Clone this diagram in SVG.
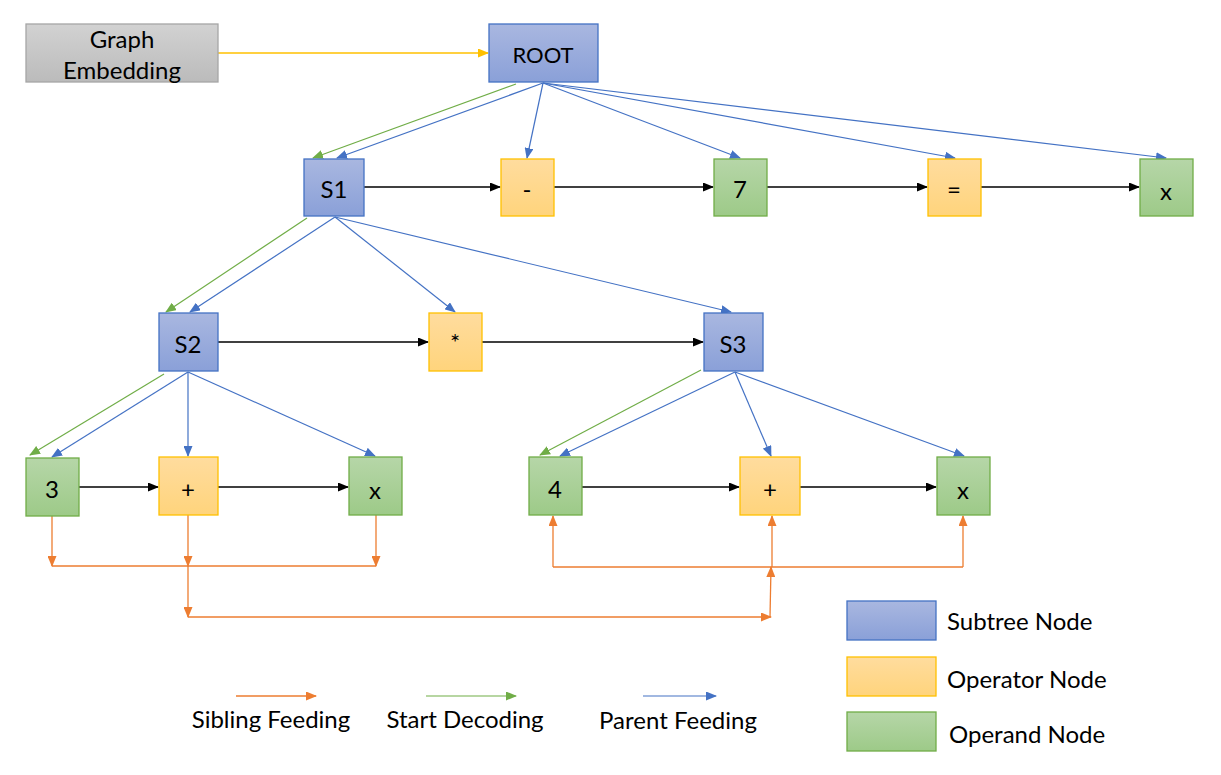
<svg xmlns="http://www.w3.org/2000/svg" width="1221" height="775" viewBox="0 0 1221 775">
<defs>
<linearGradient id="gB" x1="0" y1="0" x2="0" y2="1"><stop offset="0" stop-color="#A9B7E0"/><stop offset="1" stop-color="#8AA0D8"/></linearGradient>
<linearGradient id="gO" x1="0" y1="0" x2="0" y2="1"><stop offset="0" stop-color="#FFDC9E"/><stop offset="1" stop-color="#FFD47C"/></linearGradient>
<linearGradient id="gG" x1="0" y1="0" x2="0" y2="1"><stop offset="0" stop-color="#B6D6A8"/><stop offset="1" stop-color="#9DCA88"/></linearGradient>
<linearGradient id="gGr" x1="0" y1="0" x2="0" y2="1"><stop offset="0" stop-color="#D2D2D2"/><stop offset="1" stop-color="#BBBBBB"/></linearGradient>
<marker id="aK" markerWidth="11" markerHeight="9" refX="10" refY="4.5" orient="auto" markerUnits="userSpaceOnUse"><path d="M0,0 L11,4.5 L0,9 z" fill="#000"/></marker>
<marker id="aB" markerWidth="11" markerHeight="9" refX="10" refY="4.5" orient="auto" markerUnits="userSpaceOnUse"><path d="M0,0 L11,4.5 L0,9 z" fill="#4472C4"/></marker>
<marker id="aG" markerWidth="11" markerHeight="9" refX="10" refY="4.5" orient="auto" markerUnits="userSpaceOnUse"><path d="M0,0 L11,4.5 L0,9 z" fill="#70AD47"/></marker>
<marker id="aO" markerWidth="11" markerHeight="9" refX="10" refY="4.5" orient="auto" markerUnits="userSpaceOnUse"><path d="M0,0 L11,4.5 L0,9 z" fill="#ED7D31"/></marker>
<marker id="aY" markerWidth="11" markerHeight="9" refX="10" refY="4.5" orient="auto" markerUnits="userSpaceOnUse"><path d="M0,0 L11,4.5 L0,9 z" fill="#FFC000"/></marker>
</defs>
<style>
.sub{fill:url(#gB);stroke:#4472C4;stroke-width:1.3}
.op{fill:url(#gO);stroke:#FFC000;stroke-width:1.3}
.opd{fill:url(#gG);stroke:#70AD47;stroke-width:1.3}
.gr{fill:url(#gGr);stroke:#A6A6A6;stroke-width:1.3}
text{font-family:Lato,"Open Sans","Liberation Sans",sans-serif;fill:#000;font-size:24px}
.c{text-anchor:middle;dominant-baseline:central}
.k{stroke:#000;stroke-width:1.3;fill:none;marker-end:url(#aK)}
.b{stroke:#4472C4;stroke-width:1.2;fill:none;marker-end:url(#aB)}
.g{stroke:#70AD47;stroke-width:1.2;fill:none;marker-end:url(#aG)}
.o{stroke:#ED7D31;stroke-width:1.3;fill:none}
.oa{stroke:#ED7D31;stroke-width:1.3;fill:none;marker-end:url(#aO)}
.y{stroke:#FFC000;stroke-width:1.3;fill:none;marker-end:url(#aY)}
</style>
<g id="connectors">
<line class="y" x1="218" y1="53" x2="488" y2="53"/>
<line class="g" x1="516" y1="84" x2="313" y2="158"/>
<line class="b" x1="543" y1="83" x2="337" y2="158"/>
<line class="b" x1="543" y1="83" x2="527" y2="158"/>
<line class="b" x1="543" y1="83" x2="740" y2="158"/>
<line class="b" x1="543" y1="83" x2="955" y2="158"/>
<line class="b" x1="543" y1="83" x2="1166" y2="158"/>
<line class="k" x1="364" y1="187" x2="500" y2="187"/>
<line class="k" x1="554" y1="187" x2="713" y2="187"/>
<line class="k" x1="767" y1="187" x2="927" y2="187"/>
<line class="k" x1="981" y1="187" x2="1139" y2="187"/>
<line class="g" x1="307" y1="218" x2="166" y2="312"/>
<line class="b" x1="335" y1="217" x2="190" y2="312"/>
<line class="b" x1="335" y1="217" x2="455" y2="312"/>
<line class="b" x1="335" y1="217" x2="731" y2="312"/>
<line class="k" x1="218" y1="342" x2="428" y2="342"/>
<line class="k" x1="482" y1="342" x2="703" y2="342"/>
<line class="g" x1="164" y1="374" x2="30" y2="455"/>
<line class="b" x1="188" y1="372" x2="52" y2="457"/>
<line class="b" x1="188" y1="372" x2="188" y2="456"/>
<line class="b" x1="188" y1="372" x2="375" y2="456"/>
<line class="g" x1="701" y1="370" x2="540" y2="455"/>
<line class="b" x1="735" y1="372" x2="560" y2="456"/>
<line class="b" x1="735" y1="372" x2="771" y2="456"/>
<line class="b" x1="735" y1="372" x2="964" y2="456"/>
<line class="k" x1="79" y1="487" x2="158" y2="487"/>
<line class="k" x1="218" y1="487" x2="348" y2="487"/>
<line class="k" x1="582" y1="487" x2="739" y2="487"/>
<line class="k" x1="800" y1="487" x2="936" y2="487"/>
<line class="oa" x1="52" y1="516" x2="52" y2="566"/>
<line class="oa" x1="188" y1="515" x2="188" y2="566"/>
<line class="oa" x1="376" y1="515" x2="376" y2="566"/>
<line class="o" x1="52" y1="566" x2="376" y2="566"/>
<line class="oa" x1="188" y1="566" x2="188" y2="617"/>
<line class="oa" x1="188" y1="617" x2="771" y2="617"/>
<line class="oa" x1="770" y1="617" x2="771" y2="567"/>
<line class="o" x1="553" y1="567" x2="963" y2="567"/>
<line class="oa" x1="553" y1="567" x2="553" y2="516"/>
<line class="oa" x1="772" y1="567" x2="772" y2="516"/>
<line class="oa" x1="963" y1="567" x2="963" y2="516"/>
</g>
<g id="n-embed"><rect class="gr" x="26" y="24" width="192" height="58"/><text class="c" x="122" y="38">Graph</text><text class="c" x="122" y="69">Embedding</text></g>
<g id="n-root"><rect class="sub" x="489" y="24" width="109" height="58"/><text class="c" x="543" y="54" style="font-size:22px">ROOT</text></g>
<g id="n-s1"><rect class="sub" x="304" y="159" width="60" height="57"/><text class="c" x="334" y="188">S1</text></g>
<g id="n-minus"><rect class="op" x="501" y="159" width="53" height="57"/><text class="c" x="527" y="188">-</text></g>
<g id="n-7"><rect class="opd" x="714" y="159" width="53" height="57"/><text class="c" x="740" y="188">7</text></g>
<g id="n-eq"><rect class="op" x="928" y="159" width="53" height="57"/><text class="c" x="954" y="188">=</text></g>
<g id="n-x1"><rect class="opd" x="1140" y="159" width="53" height="57"/><text class="c" x="1166" y="190">x</text></g>
<g id="n-s2"><rect class="sub" x="159" y="313" width="59" height="58"/><text class="c" x="188" y="343">S2</text></g>
<g id="n-mul"><rect class="op" x="429" y="313" width="53" height="58"/><text class="c" x="455" y="341">*</text></g>
<g id="n-s3"><rect class="sub" x="704" y="313" width="59" height="58"/><text class="c" x="733" y="343">S3</text></g>
<g id="n-3"><rect class="opd" x="26" y="458" width="53" height="58"/><text class="c" x="52" y="488">3</text></g>
<g id="n-plus1"><rect class="op" x="159" y="457" width="59" height="58"/><text class="c" x="188" y="488">+</text></g>
<g id="n-x2"><rect class="opd" x="349" y="457" width="53" height="58"/><text class="c" x="375" y="489">x</text></g>
<g id="n-4"><rect class="opd" x="529" y="457" width="53" height="58"/><text class="c" x="555" y="488">4</text></g>
<g id="n-plus2"><rect class="op" x="740" y="457" width="60" height="58"/><text class="c" x="770" y="488">+</text></g>
<g id="n-x3"><rect class="opd" x="937" y="457" width="53" height="58"/><text class="c" x="963" y="489">x</text></g>
<g id="legend">
<rect class="sub" x="847" y="601" width="89" height="39"/><text x="947" y="630">Subtree Node</text>
<rect class="op" x="847" y="657" width="89" height="39"/><text x="947" y="688">Operator Node</text>
<rect class="opd" x="847" y="712" width="89" height="39"/><text x="949" y="743">Operand Node</text>
<line class="oa" x1="236" y1="696" x2="316" y2="696"/><text class="c" x="271" y="718">Sibling Feeding</text>
<line class="g" x1="426" y1="696" x2="516" y2="696"/><text class="c" x="465" y="718">Start Decoding</text>
<line class="b" x1="643" y1="696" x2="716" y2="696"/><text class="c" x="678" y="719">Parent Feeding</text>
</g>
</svg>
